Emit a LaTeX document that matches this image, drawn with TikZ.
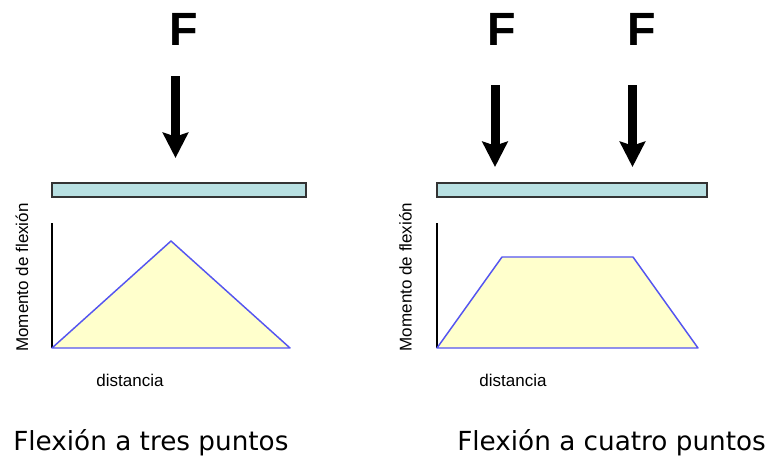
\documentclass[tikz,border=0pt]{standalone}
\usepackage{fontspec}
\setmainfont{Liberation Sans}
\newfontfamily\captionfont{DejaVu Sans}
\usetikzlibrary{arrows.meta}

\definecolor{beamfill}{RGB}{184,224,226}
\definecolor{momentfill}{RGB}{255,255,204}
\definecolor{momentline}{RGB}{85,85,240}

\begin{document}
\begin{tikzpicture}[x=0.75pt,y=-0.75pt, every node/.style={align=center, inner sep=0pt},
  force/.style={line width=6.75pt, -{Stealth[length=19pt,width=19pt,inset=3pt]}},
  forcelabel/.style={font=\fontsize{35}{40}\selectfont\bfseries, anchor=base},
  beam/.style={draw=black!80, line width=0.8pt, fill=beamfill},
  axisline/.style={draw=black, line width=0.8pt},
  moment/.style={draw=momentline, line width=1.1pt, fill=momentfill, line join=round},
  axislabel/.style={font=\fontsize{12.75}{14}\selectfont},
  caption/.style={font=\captionfont\fontsize{19.7}{22}\selectfont, anchor=base west}]
  \useasboundingbox (0,0) rectangle (772,457);

  % three point bending
  \node[forcelabel] (fL) at (183.5,45) {F};
  \coordinate (aLtop) at (175.5,76);
  \coordinate (aLtip) at (175.5,158);
  \draw[force] (aLtop) -- (aLtip);
  \draw[beam] (52,183) rectangle (306,197);
  \draw[axisline] (52,223) -- (52,348);
  \draw[moment] (52,348) -- (171,241) -- (290,348) -- cycle;
  \node[axislabel, rotate=90] (yL) at (22,277.5) {Momento de flexión};
  \node[axislabel, anchor=base] (xL) at (130,386) {distancia};
  \node[caption] (cL) at (13,450) {Flexión a tres puntos};

  % four point bending
  \node[forcelabel] (fR1) at (501.5,45) {F};
  \node[forcelabel] (fR2) at (641.5,45) {F};
  \coordinate (aR1top) at (495,85);
  \coordinate (aR1tip) at (495,167);
  \coordinate (aR2top) at (632.5,85);
  \coordinate (aR2tip) at (632.5,167);
  \draw[force] (aR1top) -- (aR1tip);
  \draw[force] (aR2top) -- (aR2tip);
  \draw[beam] (437,183) rectangle (707,197);
  \draw[axisline] (437,223) -- (437,348);
  \draw[moment] (437,348) -- (502,257) -- (633,257) -- (698,348) -- cycle;
  \node[axislabel, rotate=90] (yR) at (405.5,277) {Momento de flexión};
  \node[axislabel, anchor=base] (xR) at (513,386) {distancia};
  \node[caption] (cR) at (457,450) {Flexión a cuatro puntos};
\end{tikzpicture}
\end{document}
